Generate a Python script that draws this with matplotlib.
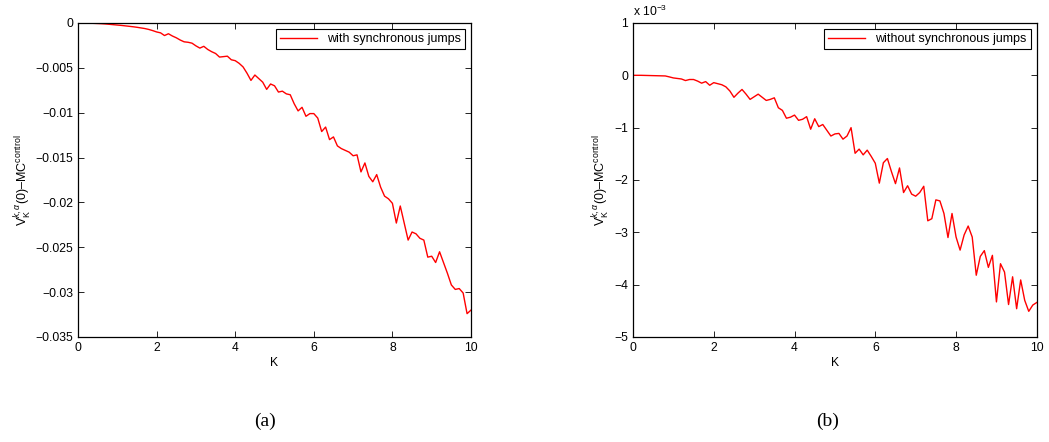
import numpy as np
import matplotlib
matplotlib.use("Agg")
import matplotlib.pyplot as plt
from matplotlib.ticker import FuncFormatter

# K grid and the two series, values stored in units of 1e-3
K = np.round(np.arange(0, 10.01, 0.1), 1)

with_sync_e3 = [
    0, -0.003, -0.01, -0.02, -0.04, -0.06, -0.08, -0.11, -0.15, -0.19,
    -0.23, -0.27, -0.32, -0.37, -0.42, -0.48, -0.55, -0.62, -0.72, -0.85,
    -1.0, -1.1, -1.4, -1.2, -1.45, -1.65, -1.9, -2.1, -2.15, -2.25,
    -2.55, -2.8, -2.6, -2.95, -3.2, -3.4, -3.8, -3.75, -3.7, -4.1,
    -4.2, -4.5, -4.9, -5.6, -6.4, -5.8, -6.2, -6.6, -7.4, -6.8,
    -7.0, -7.7, -7.6, -7.9, -8.0, -9.0, -9.8, -9.4, -10.4, -10.1,
    -10.1, -10.6, -12.1, -11.6, -13.0, -12.7, -13.7, -14.0, -14.2, -14.4,
    -14.8, -14.7, -16.6, -15.6, -17.1, -17.7, -16.9, -18.3, -19.3, -19.6,
    -20.1, -22.3, -20.4, -22.3, -24.2, -23.3, -23.5, -24.0, -24.2, -26.1,
    -26.0, -26.7, -25.5, -26.7, -27.9, -29.2, -29.7, -29.6, -30.1, -32.4,
    -32.0,
]

without_sync_e3 = [
    0, 0, 0, -0.002, -0.004, -0.006, -0.008, -0.01, -0.012, -0.03,
    -0.05, -0.06, -0.07, -0.10, -0.08, -0.08, -0.11, -0.15, -0.12, -0.19,
    -0.14, -0.16, -0.18, -0.22, -0.30, -0.42, -0.34, -0.27, -0.36, -0.46,
    -0.41, -0.36, -0.42, -0.48, -0.46, -0.43, -0.62, -0.67, -0.82, -0.80,
    -0.76, -0.86, -0.84, -0.79, -1.03, -0.83, -0.98, -0.94, -1.05, -1.16,
    -1.12, -1.11, -1.22, -1.16, -1.00, -1.49, -1.41, -1.52, -1.43, -1.55,
    -1.68, -2.06, -1.67, -1.59, -1.84, -2.07, -1.77, -2.24, -2.11, -2.27,
    -2.31, -2.24, -2.12, -2.78, -2.74, -2.38, -2.40, -2.64, -3.10, -2.64,
    -3.09, -3.34, -3.05, -2.88, -3.09, -3.82, -3.46, -3.35, -3.67, -3.44,
    -4.33, -3.60, -3.76, -4.38, -3.85, -4.46, -3.91, -4.30, -4.51, -4.39,
    -4.34,
]

yticks_a = [0, -0.005, -0.01, -0.015, -0.02, -0.025, -0.03, -0.035]
yticks_b = [1, 0, -1, -2, -3, -4, -5]
xticks = [0, 2, 4, 6, 8, 10]

plt.rcParams['font.family'] = ['Liberation Sans', 'DejaVu Sans']
plt.rcParams['mathtext.fontset'] = 'custom'
plt.rcParams['mathtext.rm'] = 'Liberation Sans'
plt.rcParams['mathtext.it'] = 'Liberation Sans:italic'
plt.rcParams['font.size'] = 8.5

ylab = r'V$_{\rm K}^{k,\alpha}$(0)–MC$^{\rm control}$'


def minus(v):
    return ('%g' % v).replace('-', '\u2212')


def style(ax):
    ax.tick_params(direction='in', top=True, right=True, length=4, width=0.6,
                   labelsize=8.7)
    for s in ax.spines.values():
        s.set_linewidth(0.9)
    ax.set_xlim(0, 10)
    ax.set_xticks(xticks)
    ax.xaxis.set_major_formatter(FuncFormatter(lambda v, p: minus(v)))
    ax.set_xlabel("K", labelpad=2, fontsize=8.7)
    ax.set_ylabel(ylab, labelpad=2, fontsize=9)


def add_legend(ax):
    leg = ax.legend(loc="upper right", fancybox=False, edgecolor="black",
                    handlelength=3.0, borderaxespad=0.5, borderpad=0.3,
                    fontsize=9, framealpha=1)
    leg.get_frame().set_linewidth(0.8)


fig = plt.figure(figsize=(10.49, 4.42), dpi=100)

ax1 = fig.add_axes([0.0744, 0.2376, 0.3746, 0.7104])
ax1.plot(K, np.array(with_sync_e3) * 1e-3, color="red", linewidth=1.0,
         label="with synchronous jumps")
ax1.set_ylim(-0.035, 0)
ax1.set_yticks(yticks_a)
ax1.yaxis.set_major_formatter(FuncFormatter(lambda v, p: minus(v)))
style(ax1)
add_legend(ax1)

ax2 = fig.add_axes([0.6034, 0.2376, 0.385, 0.7104])
ax2.plot(K, np.array(without_sync_e3) * 1e-3, color="red", linewidth=1.0,
         label="without synchronous jumps")
ax2.set_ylim(-5e-3, 1e-3)
ax2.set_yticks([t * 1e-3 for t in yticks_b])
ax2.yaxis.set_major_formatter(FuncFormatter(lambda v, p: minus(round(v * 1e3, 6))))
style(ax2)
ax2.text(0.0, 1.012, r'x 10$^{-3}$', transform=ax2.transAxes, fontsize=8.7,
         ha="left", va="bottom")
add_legend(ax2)

fig.text(265 / 1049, 1 - 421 / 442, "(a)", family="Liberation Serif",
         fontsize=14, ha="center", va="center")
fig.text(828 / 1049, 1 - 421 / 442, "(b)", family="Liberation Serif",
         fontsize=14, ha="center", va="center")

fig.savefig("out.png", dpi=100)
